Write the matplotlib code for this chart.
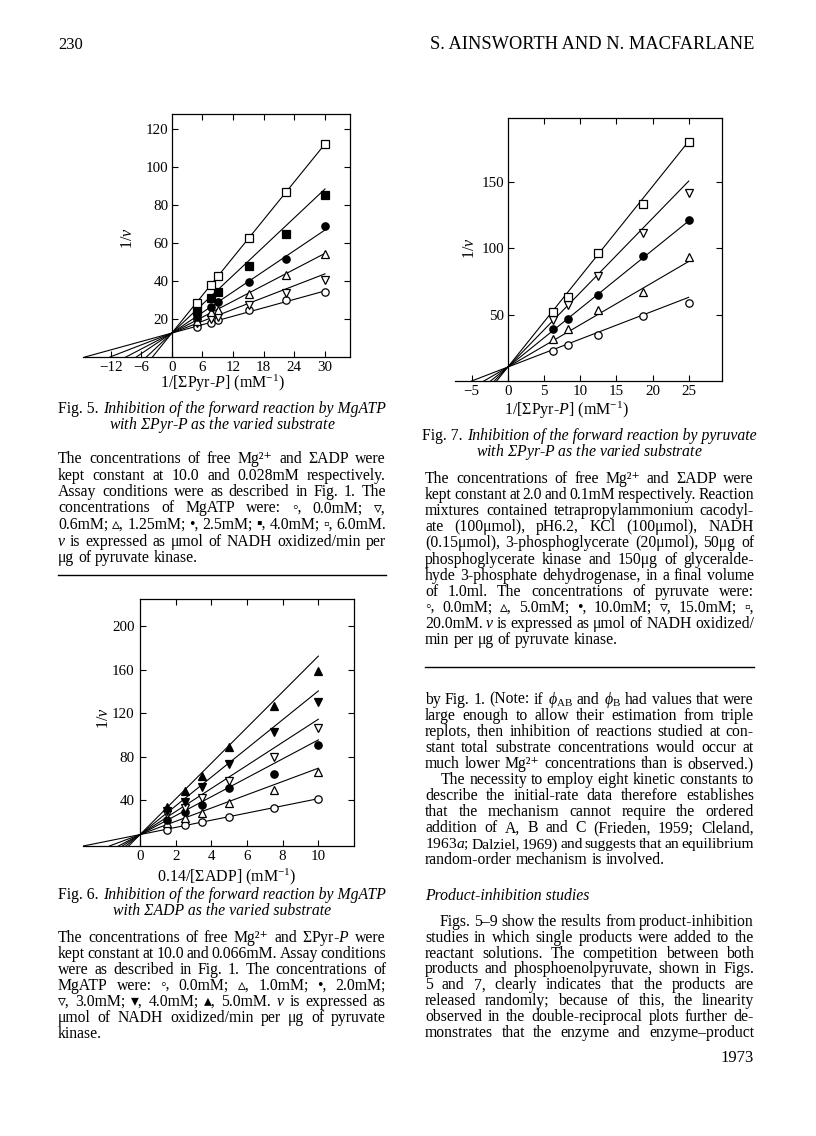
import matplotlib
matplotlib.use('Agg')
import matplotlib.pyplot as plt
import numpy as np

plt.rcParams['font.family'] = ['Liberation Serif', 'DejaVu Sans']
plt.rcParams['mathtext.fontset'] = 'custom'
plt.rcParams['mathtext.rm'] = 'Liberation Serif'
plt.rcParams['mathtext.it'] = 'Liberation Serif:italic'
plt.rcParams['mathtext.bf'] = 'Liberation Serif:bold'

# ---------------- data ----------------
# Fig. 5: 1/v vs 1/[ΣPyr-P], MgATP inhibitor
fig5_x = [4.9, 7.7, 9.1, 15.1, 22.4, 30.0]
fig5_conc = ['0.0mM', '0.6mM', '1.25mM', '2.5mM', '4.0mM', '6.0mM']
fig5_y = [
    [15.8, 17.9, 19.3, 24.9, 29.8, 34.0],
    [17.9, 20.0, 20.9, 27.2, 33.7, 40.4],
    [18.8, 23.5, 24.9, 33.3, 43.3, 54.4],
    [21.0, 26.3, 29.1, 39.5, 51.6, 68.8],
    [24.0, 31.1, 34.2, 48.1, 64.9, 85.3],
    [28.4, 38.1, 42.5, 62.6, 86.7, 112.3],
]
fig5_fit_intercept = [12.6, 12.6, 12.6, 12.6, 12.6, 12.6]
fig5_fit_slope = [0.74, 1.04, 1.40, 1.81, 2.53, 3.32]
fig5_xticks = [-12, -6, 0, 6, 12, 18, 24, 30]
fig5_yticks = [20, 40, 60, 80, 100, 120]

# Fig. 7: pyruvate inhibitor
fig7_x = [6.25, 8.33, 12.5, 18.75, 25.0]
fig7_conc = ['0.0mM', '5.0mM', '10.0mM', '15.0mM', '20.0mM']
fig7_y = [
    [22.9, 27.2, 34.3, 49.1, 58.7],
    [31.7, 39.0, 53.7, 66.8, 93.2],
    [39.3, 46.9, 64.5, 94.0, 121.0],
    [46.0, 57.0, 78.8, 111.6, 141.8],
    [51.6, 63.0, 96.5, 133.0, 180.0],
]
fig7_fit_intercept = [10.5, 10.5, 10.5, 10.5, 10.5]
fig7_fit_slope = [2.10, 3.18, 4.40, 5.60, 6.80]
fig7_xticks = [-5, 0, 5, 10, 15, 20, 25]
fig7_yticks = [50, 100, 150]

# Fig. 6: 1/v vs 0.14/[ΣADP], MgATP inhibitor
fig6_x = [1.5, 2.5, 3.5, 5.0, 7.5, 10.0]
fig6_conc = ['0.0mM', '1.0mM', '2.0mM', '3.0mM', '4.0mM', '5.0mM']
fig6_y = [
    [13.0, 17.6, 20.0, 24.8, 33.3, 40.9],
    [19.0, 23.6, 28.5, 37.9, 49.7, 66.4],
    [22.0, 29.0, 36.0, 51.0, 64.0, 91.0],
    [27.0, 33.0, 42.0, 58.0, 80.0, 106.7],
    [30.0, 38.0, 52.0, 73.6, 103.0, 130.0],
    [34.2, 48.8, 62.7, 89.0, 127.0, 159.0],
]
fig6_fit_intercept = [8.5, 8.5, 8.5, 8.5, 8.5, 8.5]
fig6_fit_slope = [3.3, 6.1, 8.7, 10.6, 13.2, 16.4]
fig6_xticks = [0, 2, 4, 6, 8, 10]
fig6_yticks = [40, 80, 120, 160, 200]

# ---------------- figure ----------------
W, H = 816, 1136
fig = plt.figure(figsize=(W / 100, H / 100), dpi=100)
fig.patch.set_facecolor('white')
renderer = fig.canvas.get_renderer()

# marker styles (marker, facecolor)
st5 = [('o', 'white'), ('v', 'white'), ('^', 'white'), ('o', 'black'), ('s', 'black'), ('s', 'white')]
st7 = [('o', 'white'), ('^', 'white'), ('o', 'black'), ('v', 'white'), ('s', 'white')]
st6 = [('o', 'white'), ('^', 'white'), ('o', 'black'), ('v', 'white'), ('v', 'black'), ('^', 'black')]


def make_axes(box, xlim, ylim, xticks, yticks, pad_y):
    l, r, t, b = box
    ax = fig.add_axes([l / W, 1 - b / H, (r - l) / W, (b - t) / H])
    ax.set_xlim(*xlim)
    ax.set_ylim(*ylim)
    ax.spines['left'].set_position(('data', 0))
    ax.spines['top'].set_visible(False)
    for s in ax.spines.values():
        s.set_linewidth(0.9)
    ax.set_xticks(xticks)
    ax.set_yticks(yticks)
    ax.tick_params(axis='x', direction='in', length=4, width=0.8, labelsize=10.8, pad=3)
    ax.tick_params(axis='y', direction='in', length=4, width=0.8, labelsize=10.8,
                   right=True, pad=pad_y)
    sec = ax.secondary_xaxis('top')
    sec.set_xticks([v for v in xticks if v > 0])
    sec.tick_params(direction='in', length=4, width=0.8, labeltop=False)
    sec.spines['top'].set_bounds(0, xlim[1])
    sec.spines['top'].set_linewidth(0.9)
    return ax


def draw_series(ax, x, ys, icepts, slopes, xend, ybase, styles):
    for y, a, b, (m, fc) in zip(ys, icepts, slopes, styles):
        x0 = (ybase - a) / b
        xs = np.array([x0, xend])
        ax.plot(xs, a + b * xs, color='black', lw=0.8, zorder=2)
        ax.plot(x, y, linestyle='none', marker=m, ms=5.3, mfc=fc, mec='black', mew=0.9, zorder=3)


def set_labels(ax, xl, xl_pos, yl, yl_pos, fs=11.5):
    ax.set_xlabel(xl, fontsize=fs)
    ax.set_ylabel(yl, fontsize=fs)
    inv = ax.transAxes.inverted()
    xp = inv.transform((xl_pos[0], H - xl_pos[1]))
    yp = inv.transform((yl_pos[0], H - yl_pos[1]))
    ax.xaxis.set_label_coords(*xp)
    ax.xaxis.label.set_va('center')
    ax.yaxis.set_label_coords(*yp)
    ax.yaxis.label.set_va('center')


xlab_pyr = r'1/[ΣPyr-$\mathit{P}$] (mM$^{-1}$)'
ylab = r'1/$\mathit{v}$'

# Fig. 5
ax5 = make_axes((83, 350, 114, 357), (-17.4, 34.9), (0, 128), fig5_xticks, fig5_yticks, 2.5)
draw_series(ax5, fig5_x, fig5_y, fig5_fit_intercept, fig5_fit_slope, 30.0, 0, st5)
set_labels(ax5, xlab_pyr, (222, 383), ylab, (128, 238))

# Fig. 7
ax7 = make_axes((455, 722, 118, 381), (-7.3, 29.6), (0, 198), fig7_xticks, fig7_yticks, 2.5)
draw_series(ax7, fig7_x, fig7_y, fig7_fit_intercept, fig7_fit_slope, 25.0, 0, st7)
set_labels(ax7, xlab_pyr, (566, 410), ylab, (470, 248))

# Fig. 6
ax6 = make_axes((83, 354, 599, 846), (-3.2, 12.0), (-2, 225), fig6_xticks, fig6_yticks, 4)
draw_series(ax6, fig6_x, fig6_y, fig6_fit_intercept, fig6_fit_slope, 10.0, -2, st6)
set_labels(ax6, r'0.14/[ΣADP] (mM$^{-1}$)', (227, 877), ylab, (104, 718))

# ---------------- text ----------------
FS = 11.3


def tw(s, style='normal', size=FS):
    t = fig.text(0, 0, s, fontsize=size, style=style)
    w = t.get_window_extent(renderer).width
    t.remove()
    return w


SPACE = tw('a a') - tw('aa')


def put(x, y, s, style='normal', size=FS, ha='left'):
    fig.text(x / W, 1 - y / H, s, fontsize=size, style=style, ha=ha, va='baseline')


def line(x0, x1, y, text, justify=True, size=FS):
    items = []
    for w in text.split(' '):
        st = 'normal'
        if w.startswith('~'):
            st = 'italic'
            w = w[1:]
        items.append((w, st))
    widths = [tw(w, st, size) for w, st in items]
    n = len(items)
    min_gap = 0.55 * SPACE * size / FS
    if justify and n > 1:
        gap = (x1 - x0 - sum(widths)) / (n - 1)
        if gap < min_gap:
            f = (x1 - x0 - (n - 1) * min_gap) / sum(widths)
            size = size * f
            widths = [tw(w, st, size) for w, st in items]
            gap = (x1 - x0 - sum(widths)) / (n - 1)
    else:
        gap = SPACE
    x = x0
    for (w, st), wd in zip(items, widths):
        put(x, y, w, st, size)
        x += wd + gap


def caption(cx, y, roman, italic):
    wr = tw(roman) + SPACE if roman else 0
    wi = tw(italic, 'italic')
    x = cx - (wr + wi) / 2
    if roman:
        put(x, y, roman)
    put(x + wr, y, italic, 'italic')


def paragraph(x0, x1, y0, dy, lines, last_justify=False, indent=0):
    for i, t in enumerate(lines):
        last = (i == len(lines) - 1)
        line(x0 + (indent if i == 0 else 0), x1, y0 + i * dy, t,
             justify=(not last) or last_justify)


# header
put(58, 49, '230', size=12)
put(754, 49, 'S. AINSWORTH AND N. MACFARLANE', size=13.2, ha='right')

LX0, LX1 = 58, 386
RX0, RX1 = 425, 754

# Fig. 5 caption + legend text
caption(222, 413, 'Fig. 5.', 'Inhibition of the forward reaction by MgATP')
caption(222, 429, '', r'with ΣPyr-$P$ as the varied substrate')
paragraph(LX0, LX1, 463, 16.5, [
    'The concentrations of free Mg²⁺ and ΣADP were',
    'kept constant at 10.0 and 0.028mM respectively.',
    'Assay conditions were as described in Fig. 1. The',
    'concentrations of MgATP were: ◦, 0.0mM; ▿,',
    '0.6mM; ▵, 1.25mM; •, 2.5mM; ▪, 4.0mM; ▫, 6.0mM.',
    '~v is expressed as μmol of NADH oxidized/min per',
    'μg of pyruvate kinase.',
])
fig.add_artist(plt.Line2D([LX0 / W, LX1 / W], [1 - 575 / H, 1 - 575 / H], color='black', lw=1.0))

# Fig. 6 caption + legend text
caption(222, 899, 'Fig. 6.', 'Inhibition of the forward reaction by MgATP')
caption(222, 915, '', 'with ΣADP as the varied substrate')
paragraph(LX0, LX1, 942, 16, [
    r'The concentrations of free Mg²⁺ and ΣPyr-$\mathit{P}$ were',
    'kept constant at 10.0 and 0.066mM. Assay conditions',
    'were as described in Fig. 1. The concentrations of',
    'MgATP were: ◦, 0.0mM; ▵, 1.0mM; •, 2.0mM;',
    '▿, 3.0mM; ▾, 4.0mM; ▴, 5.0mM. ~v is expressed as',
    'μmol of NADH oxidized/min per μg of pyruvate',
    'kinase.',
])

# Fig. 7 caption + legend text
caption(589.5, 440, 'Fig. 7.', 'Inhibition of the forward reaction by pyruvate')
caption(589.5, 456.5, '', r'with ΣPyr-$P$ as the varied substrate')
paragraph(RX0, RX1, 483.3, 16.04, [
    'The concentrations of free Mg²⁺ and ΣADP were',
    'kept constant at 2.0 and 0.1mM respectively. Reaction',
    'mixtures contained tetrapropylammonium cacodyl-',
    'ate (100μmol), pH6.2, KCl (100μmol), NADH',
    '(0.15μmol), 3-phosphoglycerate (20μmol), 50μg of',
    'phosphoglycerate kinase and 150μg of glyceralde-',
    'hyde 3-phosphate dehydrogenase, in a final volume',
    'of 1.0ml. The concentrations of pyruvate were:',
    '◦, 0.0mM; ▵, 5.0mM; •, 10.0mM; ▿, 15.0mM; ▫,',
    '20.0mM. ~v is expressed as μmol of NADH oxidized/',
    'min per μg of pyruvate kinase.',
])
fig.add_artist(plt.Line2D([RX0 / W, RX1 / W], [1 - 667 / H, 1 - 667 / H], color='black', lw=1.0))

# body text, right column
paragraph(RX0, RX1, 703.5, 16.1, [
    r'by Fig. 1. (Note: if $\phi_{\mathrm{AB}}$ and $\phi_{\mathrm{B}}$ had values that were',
    'large enough to allow their estimation from triple',
    'replots, then inhibition of reactions studied at con-',
    'stant total substrate concentrations would occur at',
    'much lower Mg²⁺ concentrations than is observed.)',
], last_justify=True)
paragraph(RX0, RX1, 703.5 + 5 * 16.1, 16.1, [
    'The necessity to employ eight kinetic constants to',
    'describe the initial-rate data therefore establishes',
    'that the mechanism cannot require the ordered',
    'addition of A, B and C (Frieden, 1959; Cleland,',
    r'1963$\mathit{a}$; Dalziel, 1969) and suggests that an equilibrium',
    'random-order mechanism is involved.',
], indent=16)
put(RX0, 900, 'Product-inhibition studies', 'italic')
paragraph(RX0, RX1, 926, 15.8, [
    'Figs. 5–9 show the results from product-inhibition',
    'studies in which single products were added to the',
    'reactant solutions. The competition between both',
    'products and phosphoenolpyruvate, shown in Figs.',
    '5 and 7, clearly indicates that the products are',
    'released randomly; because of this, the linearity',
    'observed in the double-reciprocal plots further de-',
    'monstrates that the enzyme and enzyme–product',
], last_justify=True, indent=15)
put(754, 1061.5, '1973', size=12, ha='right')

fig.savefig('out.png', dpi=100, facecolor='white')
